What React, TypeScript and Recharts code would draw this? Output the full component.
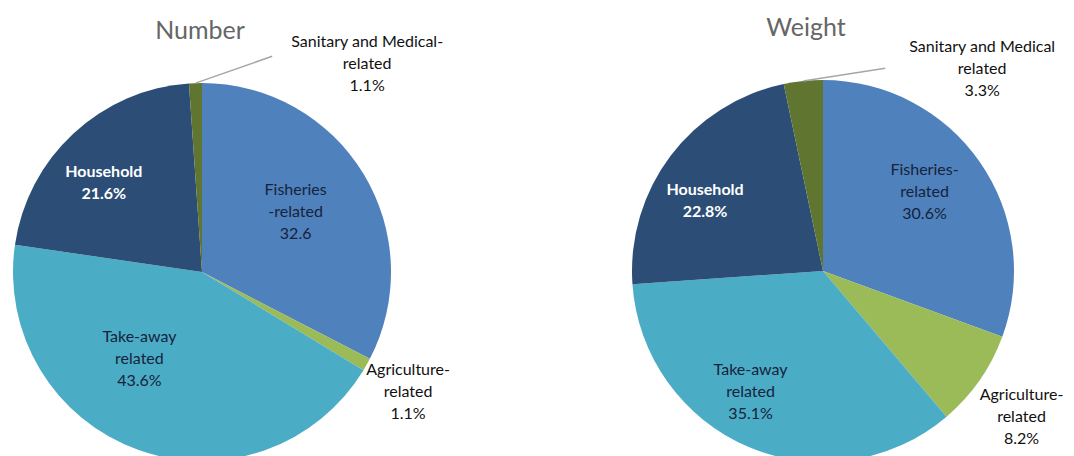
import React from 'react';
import { PieChart, Pie, Cell } from 'recharts';

const categories = ['Fisheries', 'Agriculture', 'Take-away', 'Household', 'Sanitary'];
const numberValues = [32.6, 1.1, 43.6, 21.6, 1.1];
const weightValues = [30.6, 8.2, 35.1, 22.8, 3.3];

const numberLabels = [
  ['Fisheries', '-related', '32.6'],
  ['Agriculture-', 'related', '1.1%'],
  ['Take-away', 'related', '43.6%'],
  ['Household', '21.6%'],
  ['Sanitary and Medical-', 'related', '1.1%'],
];
const weightLabels = [
  ['Fisheries-', 'related', '30.6%'],
  ['Agriculture-', 'related', '8.2%'],
  ['Take-away', 'related', '35.1%'],
  ['Household', '22.8%'],
  ['Sanitary and Medical', 'related', '3.3%'],
];

const colors = ['#4f81bd', '#9bbb59', '#4bacc6', '#2c4d75', '#5f7530'];
const textColors = ['#16233a', '#111', '#16233a', '#ffffff', '#111'];

// label placement: radius factor + angle tweak; leader = line end + text offset
type LabelPos = { r: number; dA: number; leader?: { r: number; dA: number; dx: number; dy: number } };
const numberPos: LabelPos[] = [
  { r: 0.58, dA: 0 },
  { r: 1.27, dA: -1.5 },
  { r: 0.58, dA: -15 },
  { r: 0.69, dA: 6 },
  { r: 1, dA: 0, leader: { r: 1.2, dA: -20, dx: 95, dy: 11 } },
];
const weightPos: LabelPos[] = [
  { r: 0.665, dA: 2 },
  { r: 1.3, dA: -2 },
  { r: 0.75, dA: -7.5 },
  { r: 0.71, dA: 7.5 },
  { r: 1, dA: 0, leader: { r: 1.11, dA: -23, dx: 97, dy: 4 } },
];

const RAD = Math.PI / 180;
const FONT = 'Lato, "Open Sans", sans-serif';
const LINE_H = 22;
const TEXT_SHIFT = -5;

const makeLabel = (lines: string[][], pos: LabelPos[]) => (props: any) => {
  const { cx, cy, midAngle, outerRadius, index } = props;
  const p = pos[index];
  const txt = lines[index];
  let x: number;
  let y: number;
  let line: React.ReactNode = null;
  if (p.leader) {
    const sx = cx + outerRadius * Math.cos(-midAngle * RAD);
    const sy = cy + outerRadius * Math.sin(-midAngle * RAD);
    const a = midAngle + p.leader.dA;
    const ex = cx + outerRadius * p.leader.r * Math.cos(-a * RAD);
    const ey = cy + outerRadius * p.leader.r * Math.sin(-a * RAD);
    line = <line x1={sx} y1={sy} x2={ex} y2={ey} stroke="#a6a6a6" strokeWidth={1.5} />;
    x = ex + p.leader.dx;
    y = ey + p.leader.dy;
  } else {
    const a = midAngle + p.dA;
    x = cx + outerRadius * p.r * Math.cos(-a * RAD);
    y = cy + outerRadius * p.r * Math.sin(-a * RAD);
  }
  const top = y - ((txt.length - 1) * LINE_H) / 2 + TEXT_SHIFT;
  return (
    <g>
      {line}
      <text
        x={x}
        y={top}
        textAnchor="middle"
        dominantBaseline="central"
        fill={textColors[index]}
        fontFamily={FONT}
        fontSize={16}
        fontWeight={index === 3 ? 700 : 400}
      >
        {txt.map((t, i) => (
          <tspan key={i} x={x} y={top + i * LINE_H}>
            {t}
          </tspan>
        ))}
      </text>
    </g>
  );
};

const numberData = categories.map((c, i) => ({ name: c, value: numberValues[i] }));
const weightData = categories.map((c, i) => ({ name: c, value: weightValues[i] }));

const titleStyle: React.CSSProperties = {
  position: 'absolute',
  fontFamily: FONT,
  fontSize: 25,
  color: '#666666',
  transform: 'translate(-50%, -50%)',
  whiteSpace: 'nowrap',
};

export default function App() {
  return (
    <div style={{ position: 'relative', width: 1074, height: 456, background: '#fff' }}>
      <style>{`body{margin:0}`}</style>
      <div style={{ ...titleStyle, left: 200, top: 29 }}>Number</div>
      <div style={{ ...titleStyle, left: 806, top: 26 }}>Weight</div>
      <PieChart width={1074} height={456}>
        <Pie
          data={numberData}
          dataKey="value"
          cx={197}
          cy={267}
          outerRadius={189}
          startAngle={90}
          endAngle={-270}
          stroke="none"
          label={makeLabel(numberLabels, numberPos)}
          labelLine={false}
          isAnimationActive={false}
        >
          {numberData.map((d, i) => (
            <Cell key={d.name} fill={colors[i]} />
          ))}
        </Pie>
        <Pie
          data={weightData}
          dataKey="value"
          cx={818}
          cy={266}
          outerRadius={191}
          startAngle={90}
          endAngle={-270}
          stroke="none"
          label={makeLabel(weightLabels, weightPos)}
          labelLine={false}
          isAnimationActive={false}
        >
          {weightData.map((d, i) => (
            <Cell key={d.name} fill={colors[i]} />
          ))}
        </Pie>
      </PieChart>
    </div>
  );
}
